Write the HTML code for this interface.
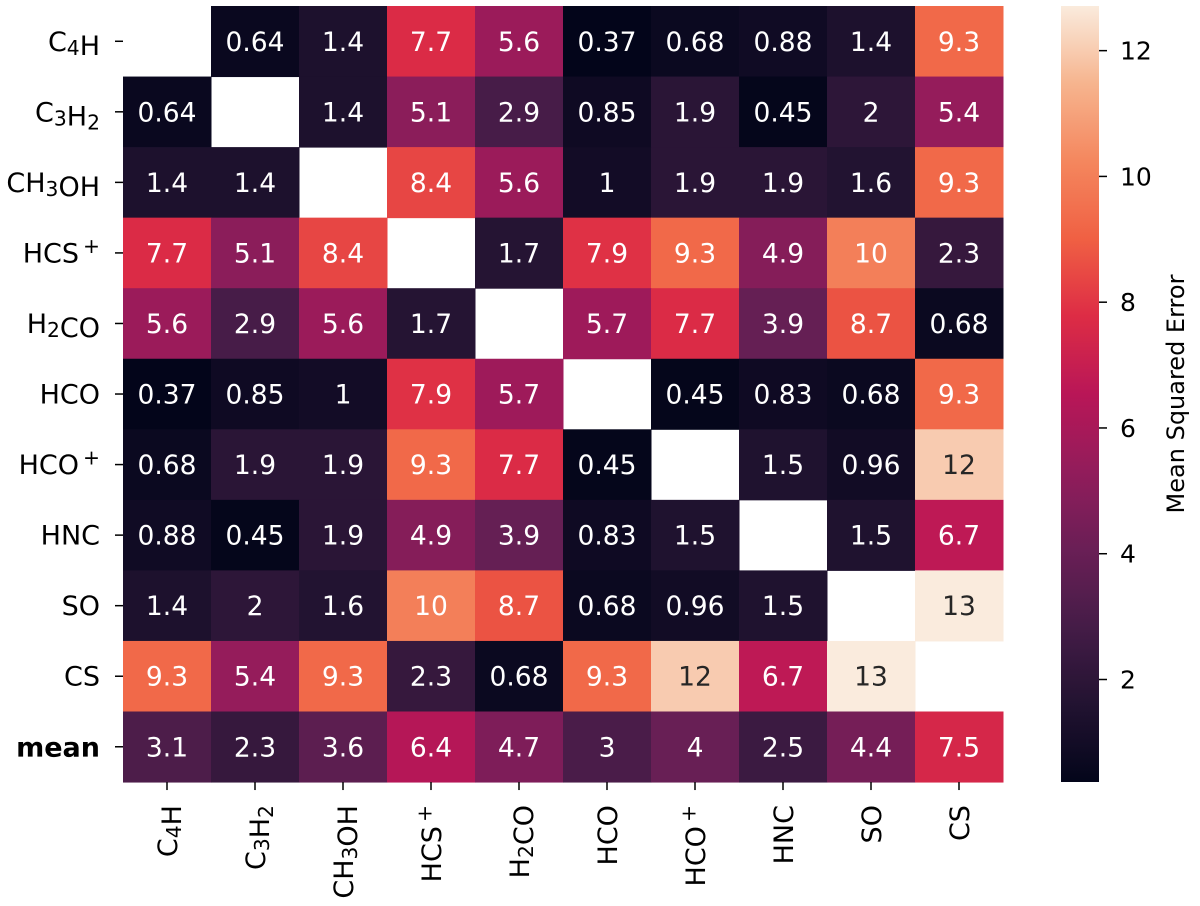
<!DOCTYPE html>
<html><head><meta charset="utf-8"><style>
html,body{margin:0;padding:0;background:#fff;}
svg{display:block;font-family:"DejaVu Sans","Liberation Sans",sans-serif;}
</style></head><body>
<svg id="chart" width="1200" height="906" viewBox="0 0 1200 906" xmlns="http://www.w3.org/2000/svg">
<defs><linearGradient id="cbgrad" x1="0" y1="1" x2="0" y2="0"></linearGradient></defs>
<g id="cells"></g>
<g id="ylabels"></g>
<g id="xlabels"></g>
<g id="cbar"></g>
<text transform="translate(1184,394) rotate(-90)" text-anchor="middle" font-size="24" fill="#000">Mean Squared Error</text>
</svg>
<script>
const rowLabels = ["C4H","C3H2","CH3OH","HCS+","H2CO","HCO","HCO+","HNC","SO","CS","mean"];
const colLabels = ["C4H","C3H2","CH3OH","HCS+","H2CO","HCO","HCO+","HNC","SO","CS"];
const values = [
[null,0.64,1.4,7.7,5.6,0.37,0.68,0.88,1.4,9.3],
[0.64,null,1.4,5.1,2.9,0.85,1.9,0.45,2,5.4],
[1.4,1.4,null,8.4,5.6,1,1.9,1.9,1.6,9.3],
[7.7,5.1,8.4,null,1.7,7.9,9.3,4.9,10,2.3],
[5.6,2.9,5.6,1.7,null,5.7,7.7,3.9,8.7,0.68],
[0.37,0.85,1,7.9,5.7,null,0.45,0.83,0.68,9.3],
[0.68,1.9,1.9,9.3,7.7,0.45,null,1.5,0.96,12],
[0.88,0.45,1.9,4.9,3.9,0.83,1.5,null,1.5,6.7],
[1.4,2,1.6,10,8.7,0.68,0.96,1.5,null,13],
[9.3,5.4,9.3,2.3,0.68,9.3,12,6.7,13,null],
[3.1,2.3,3.6,6.4,4.7,3,4,2.5,4.4,7.5]
];
const cbarTicks = [2,4,6,8,10,12];
const vmin = 0.37, vmax = 12.71;

const NS="http://www.w3.org/2000/svg";
const X0=123, Y0=6, CW=88, RH=70.55;
const CBX=1061, CBW=38, CBY0=6, CBY1=782;
const FS=27;
const stops=[[0,'#03051a'],[0.1,'#221331'],[0.2,'#451c47'],[0.3,'#6a1f56'],[0.4,'#921c5b'],[0.5,'#b91657'],[0.6,'#dd2c45'],[0.7,'#f06043'],[0.8,'#f4875e'],[0.9,'#f6b48e'],[1,'#faebdd']];
function hex(h){return [1,3,5].map(i=>parseInt(h.substr(i,2),16));}
function cmap(v){let t=Math.max(0,Math.min(1,(v-vmin)/(vmax-vmin)));
 for(let i=1;i<stops.length;i++){if(t<=stops[i][0]){const a=hex(stops[i-1][1]),b=hex(stops[i][1]);const f=(t-stops[i-1][0])/(stops[i][0]-stops[i-1][0]);return a.map((c,k)=>Math.round(c+(b[k]-c)*f));}}
 return hex(stops[stops.length-1][1]);}
function lum(rgb){const l=rgb.map(c=>{c/=255;return c<=0.03928?c/12.92:Math.pow((c+0.055)/1.055,2.4);});return 0.2126*l[0]+0.7152*l[1]+0.0722*l[2];}
function xScale(j){return X0+j*CW;}
function yScale(i){return Y0+i*RH;}
function cbY(v){return CBY1-(v-vmin)/(vmax-vmin)*(CBY1-CBY0);}
function el(tag,attrs,parent){const e=document.createElementNS(NS,tag);for(const k in attrs)e.setAttribute(k,attrs[k]);parent.appendChild(e);return e;}
function fillLabel(t,s,fs){
 if(s==="mean"){t.setAttribute('font-weight','bold');t.textContent=s;return;}
 const parts=s.match(/[A-Za-z]+|\d+|\+/g);
 parts.forEach(p=>{const ts=document.createElementNS(NS,'tspan');
  if(/^\d+$/.test(p)){ts.setAttribute('font-size',fs*0.75);ts.setAttribute('dy',fs*0.15);ts.textContent=p;t.appendChild(ts);
   const r=document.createElementNS(NS,'tspan');r.setAttribute('dy',-fs*0.15);r.textContent='';t.appendChild(r);}
  else if(p==='+'){ts.setAttribute('font-size',fs*0.75);ts.setAttribute('dy',-fs*0.35);ts.textContent='\u2009+';t.appendChild(ts);}
  else{ts.textContent=p;t.appendChild(ts);}
 });
}
const cells=document.getElementById('cells');
values.forEach((row,i)=>row.forEach((v,j)=>{
 if(v===null)return;
 const c=cmap(v);
 const r=el('rect',{x:xScale(j),y:yScale(i),width:CW+0.5,height:RH+0.5,fill:`rgb(${c})`},cells);
 
 
 const t=el('text',{x:xScale(j)+CW/2,y:yScale(i)+RH/2+9.5,'text-anchor':'middle','font-size':26.5,fill:lum(c)>0.408?'#262626':'#ffffff'},cells);
 
 
 t.textContent=String(v);
}));
const yl=document.getElementById('ylabels');
rowLabels.forEach((s,i)=>{
 const yc=yScale(i)+RH/2;
 el('line',{x1:X0-8,x2:X0,y1:yc,y2:yc,stroke:'#000','stroke-width':1.5},yl);
 const t=el('text',{x:X0-23,y:yc+9.5,'text-anchor':'end','font-size':FS,fill:'#000'},yl);
 
 
 fillLabel(t,s,FS);
});
const xl=document.getElementById('xlabels');
const yb=yScale(rowLabels.length);
colLabels.forEach((s,j)=>{
 const xc=xScale(j)+CW/2;
 el('line',{x1:xc,x2:xc,y1:yb,y2:yb+8,stroke:'#000','stroke-width':1.5},xl);
 const t=el('text',{transform:`translate(${xc+10},${yb+23}) rotate(-90)`,'text-anchor':'end','font-size':FS,fill:'#000'},xl);
 
 
 fillLabel(t,s,FS);
});
const g=document.getElementById('cbgrad');
for(let k=0;k<=40;k++){const v=vmin+(vmax-vmin)*k/40;el('stop',{offset:k/40,'stop-color':`rgb(${cmap(v)})`},g);}
const cb=document.getElementById('cbar');
el('rect',{x:CBX,y:CBY0,width:CBW,height:CBY1-CBY0,fill:'url(#cbgrad)'},cb);
cbarTicks.forEach(v=>{
 const y=cbY(v);
 el('line',{x1:CBX+CBW,x2:CBX+CBW+8,y1:y,y2:y,stroke:'#000','stroke-width':1.5},cb);
 const t=el('text',{x:CBX+CBW+21,y:y+9,'font-size':25,fill:'#000'},cb);
 
 
 t.textContent=String(v);
});
</script>
</body></html>
